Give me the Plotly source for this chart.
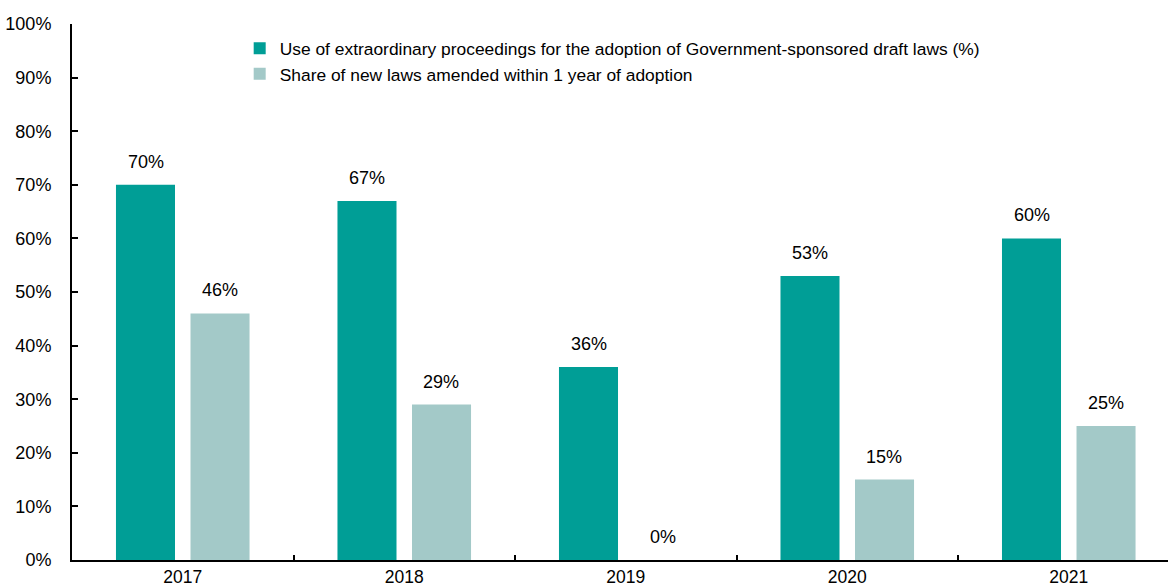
import plotly.graph_objects as go

years = ["2017", "2018", "2019", "2020", "2021"]
extraordinary = [70, 67, 36, 53, 60]
amended = [46, 29, 0, 15, 25]
series_names = [
    "Use of extraordinary proceedings for the adoption of Government-sponsored draft laws (%)",
    "Share of new laws amended within 1 year of adoption",
]
y_ticks = [0, 10, 20, 30, 40, 50, 60, 70, 80, 90, 100]

DARK = "#009E96"
LIGHT = "#A3C9C8"
FONT = "Liberation Sans, Arial, sans-serif"

fig = go.Figure()
for name, vals, col, grp in [(series_names[0], extraordinary, DARK, "a"),
                             (series_names[1], amended, LIGHT, "b")]:
    fig.add_trace(go.Bar(
        x=years, y=vals, name=name, marker=dict(color=col, line=dict(width=0)),
        legendgroup=grp,
    ))

# data labels (category index used as x position on the category axis)
for vals, shift in [(extraordinary, -37), (amended, 37)]:
    for i, v in enumerate(vals):
        fig.add_annotation(x=i, y=v, xref="x", yref="y", text=f"{v}%",
                           showarrow=False, xshift=shift, yanchor="bottom", yshift=11,
                           font=dict(family=FONT, size=18, color="black"))

fig.update_layout(
    width=1168, height=587,
    margin=dict(l=72, r=0, t=24, b=27),
    paper_bgcolor="white", plot_bgcolor="white",
    barmode="group", bargap=0.327, bargroupgap=0.208,
    font=dict(family=FONT, size=18, color="black"),
    showlegend=True,
    legend=dict(x=0.153, y=0.988, xanchor="left", yanchor="top",
                bgcolor="rgba(0,0,0,0)", font=dict(size=17.4, family=FONT),
                tracegroupgap=20, traceorder="normal"),
)
fig.update_xaxes(
    type="category", range=[-0.5, 4.448], automargin=False,
    showline=True, linecolor="black", linewidth=2,
    ticks="inside", tickson="boundaries", ticklen=5, tickwidth=1.5, tickcolor="black",
    showgrid=False, tickfont=dict(size=17.5), fixedrange=True,
)
fig.update_yaxes(
    range=[0, 100], tickvals=y_ticks, ticktext=[f"{t}%" for t in y_ticks],
    automargin=False,
    showline=True, linecolor="black", linewidth=2,
    ticks="inside", ticklen=6, tickwidth=1.5, tickcolor="black",
    ticklabelstandoff=15,
    showgrid=False, zeroline=False, tickfont=dict(size=18), fixedrange=True,
)

fig.write_html("out.html")
